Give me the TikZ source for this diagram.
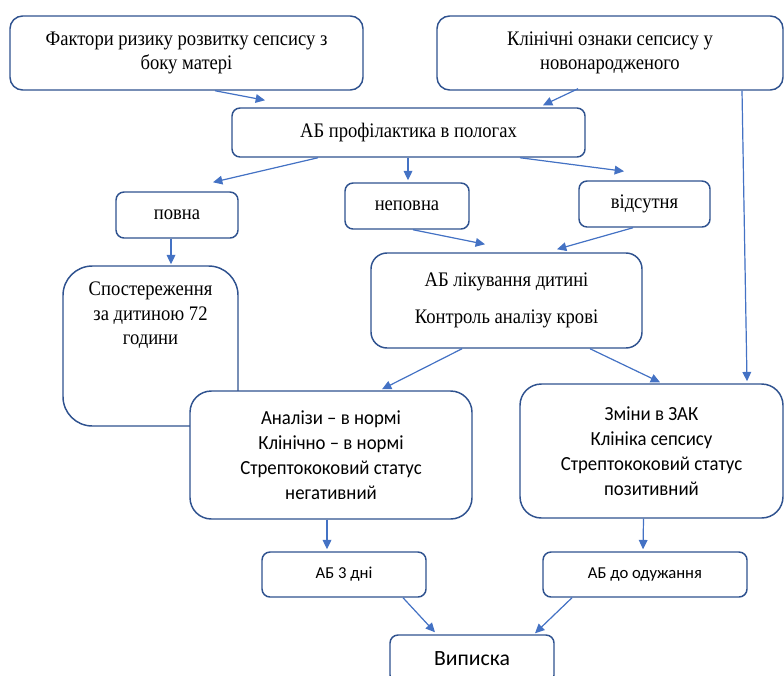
\documentclass[tikz,border=0pt]{standalone}
\usepackage{fontspec}
\setmainfont{Liberation Serif}[FakeStretch=0.9]
\newfontfamily\clb{Carlito}[FakeStretch=0.94]
\newfontfamily\clbn{Carlito}
\usetikzlibrary{arrows.meta,positioning,calc}
\definecolor{boxline}{RGB}{47,82,143}
\definecolor{arrline}{RGB}{68,114,196}
\newcommand\pxu{0.75pt}

\begin{document}
\begin{tikzpicture}[x=0.75pt, y=-0.75pt,
  bx/.style={draw=boxline, line width=1.1pt, rounded corners=#1, fill=white,
             align=center, inner sep=0pt},
  bx/.default=6pt,
  arr/.style={-{Triangle[length=7pt,width=6.5pt]}, draw=arrline, fill=arrline, line width=0.9pt},
  srf/.style={font=\fontsize{15.5}{18.5}\selectfont},
  sns/.style={font=\clb\fontsize{15}{18.75}\selectfont}
]
\useasboundingbox (0,0) rectangle (784,675);

% ─── top row ───
\node[bx=9.5pt, srf, minimum width=353*\pxu, minimum height=74*\pxu] (fakt) at (186.5,53)
     {Фактори ризику розвитку сепсису з\\боку матері};
\node[bx=9.5pt, srf, minimum width=346*\pxu, minimum height=74*\pxu] (klin) at (610,53)
     {Клінічні ознаки сепсису у\\новонародженого};

% ─── prophylaxis ───
\node[bx, srf, minimum width=353*\pxu, minimum height=49*\pxu] (prof) at (408.5,132.5)
     {АБ профілактика в пологах};
\node[bx, srf, minimum width=122*\pxu, minimum height=46*\pxu] (povna)   at (177,215)   {повна};
\node[bx, srf, minimum width=124*\pxu, minimum height=46*\pxu] (nepovna) at (407,206)   {неповна};
\node[bx, srf, minimum width=131*\pxu, minimum height=46*\pxu] (vids)    at (644.5,204) {відсутня};

% ─── observation / treatment ───
\node[bx=22pt, minimum width=175*\pxu, minimum height=160*\pxu] (sposter) at (150.5,346) {};
\node[srf, align=center, inner sep=0pt] (spostxt) at ($(sposter.north)+(0,50)$)
     {Спостереження\\за дитиною 72\\години};
\node[bx=12pt, srf, minimum width=271*\pxu, minimum height=95*\pxu] (likuv) at (506.5,300.5)
     {АБ лікування дитині\\[9pt]Контроль аналізу крові};

% ─── results ───
\node[bx=16pt, sns, minimum width=282*\pxu, minimum height=128*\pxu] (analiz) at (331,455)
     {Аналізи – в нормі\\Клінічно – в нормі\\Стрептококовий статус\\негативний};
\node[bx=16pt, sns, minimum width=263*\pxu, minimum height=134*\pxu] (zminy) at (651.5,451)
     {Зміни в ЗАК\\Клініка сепсису\\Стрептококовий статус\\позитивний};

% ─── antibiotics / discharge ───
\node[bx, font=\clbn\fontsize{12.5}{14}\selectfont, minimum width=164*\pxu, minimum height=45*\pxu]
     (ab3) at (344,574.5) {АБ 3 дні};
\node[bx, font=\clbn\fontsize{12.5}{14}\selectfont, minimum width=204*\pxu, minimum height=45*\pxu]
     (abod) at (645,574.5) {АБ до одужання};
\node[bx, font=\clbn\fontsize{16.3}{18}\selectfont, minimum width=164*\pxu, minimum height=48*\pxu]
     (vyp) at (472,659) {Виписка};

% ─── connectors ───
\draw[arr] ($(fakt.south)+(28.5,0)$)     -- ($(prof.north)+(-143.5,-7)$);
\draw[arr] ($(klin.south)+(-32,-2)$)     -- ($(prof.north)+(134.5,-2)$);
\draw[arr] ($(prof.south)+(-90.5,0)$)    -- ($(povna.north)+(36,-9)$);
\draw[arr] ($(prof.south)+(-0.5,0)$)     -- ($(nepovna.north)+(1,-2)$);
\draw[arr] ($(prof.south)+(111.5,0)$)    -- ($(vids.north)+(-20.5,-9)$);
\draw[arr] ($(povna.south)+(-6,0)$)      -- ($(sposter.north)+(20.5,-1)$);
\draw[arr] ($(nepovna.south)+(6,0)$)     -- ($(likuv.north)+(-21.5,-8)$);
\draw[arr] ($(vids.south)+(-11.5,0)$)    -- ($(likuv.north)+(50.5,-3)$);
\draw[arr] ($(klin.south)+(132,0)$)      -- ($(zminy.north)+(95.5,-2)$);
\draw[arr] ($(likuv.south)+(-44.5,0)$)   -- ($(analiz.north)+(51,-1)$);
\draw[arr] ($(likuv.south)+(83.5,0)$)    -- ($(zminy.north)+(8.5,-1)$);
\draw[arr] ($(analiz.south)+(-4,0)$)     -- ($(ab3.north)+(-17,-2)$);
\draw[arr] ($(zminy.south)+(-8,0)$)      -- ($(abod.north)+(-2,-2)$);
\draw[arr] ($(ab3.south)+(59,0)$)        -- ($(vyp.north)+(-37,-2)$);
\draw[arr] ($(abod.south)+(-73,0)$)      -- ($(vyp.north)+(63,-1)$);

\end{tikzpicture}
\end{document}
